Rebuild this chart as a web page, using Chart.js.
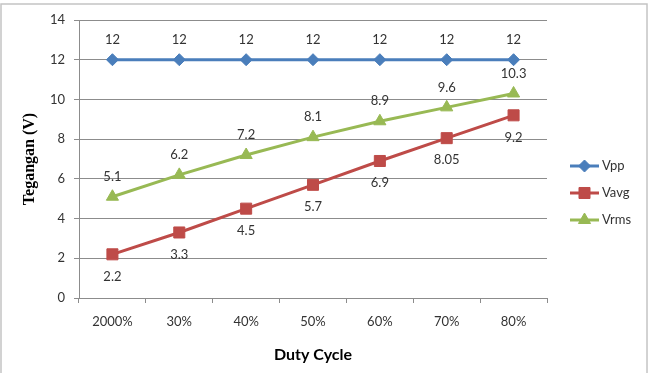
<!DOCTYPE html>
<html>
<head>
<meta charset="utf-8">
<script src="https://cdn.jsdelivr.net/npm/chart.js@4/dist/chart.umd.min.js"></script>
<style>
  html, body { margin: 0; padding: 0; background: #fff; }
  #wrap { width: 653px; height: 373px; position: relative; }
</style>
</head>
<body>
<div id="wrap"><canvas id="chart" width="653" height="373"></canvas></div>
<script>
const dutyCycles = ['2000%', '30%', '40%', '50%', '60%', '70%', '80%'];
const vppData = [12, 12, 12, 12, 12, 12, 12];
const vavgData = [2.2, 3.3, 4.5, 5.7, 6.9, 8.05, 9.2];
const vrmsData = [5.1, 6.2, 7.2, 8.1, 8.9, 9.6, 10.3];
const seriesNames = ['Vpp', 'Vavg', 'Vrms'];

const blue = '#4A7EBB';
const red = '#BE4B48';
const green = '#98B954';
const textColor = '#333333';
const gridColor = '#8C8C8C';
const labelFont = '13px Lato, "Open Sans", sans-serif';

// value labels: Vavg goes under its points, the others above
const dataLabels = {
    id: 'dataLabels',
    afterDatasetsDraw(chart) {
        const ctx = chart.ctx;
        ctx.save();
        ctx.font = labelFont;
        ctx.fillStyle = textColor;
        ctx.textAlign = 'center';
        ctx.textBaseline = 'middle';
        chart.data.datasets.forEach((ds, i) => {
            const meta = chart.getDatasetMeta(i);
            meta.data.forEach((pt, j) => {
                const dy = ds.label === 'Vavg' ? 22 : -20;
                ctx.fillText(String(ds.data[j]), pt.x, pt.y + dy);
            });
        });
        ctx.restore();
    }
};

// excel-ish legend: short line with marker, then the name
const sideLegend = {
    id: 'sideLegend',
    afterDraw(chart) {
        const ctx = chart.ctx;
        const x0 = 570, x1 = 599, rows = [166, 193, 220];
        ctx.save();
        chart.data.datasets.forEach((ds, i) => {
            const y = rows[i];
            ctx.strokeStyle = ds.borderColor;
            ctx.lineWidth = 3;
            ctx.beginPath();
            ctx.moveTo(x0, y);
            ctx.lineTo(x1, y);
            ctx.stroke();
            ctx.fillStyle = ds.backgroundColor;
            ctx.strokeStyle = ds.borderColor;
            ctx.lineWidth = 1;
            Chart.helpers.drawPoint(ctx, {pointStyle: ds.pointStyle, radius: ds.pointRadius, borderWidth: 1}, (x0 + x1) / 2, y);
            ctx.font = labelFont;
            ctx.fillStyle = textColor;
            ctx.textAlign = 'left';
            ctx.textBaseline = 'middle';
            ctx.fillText(ds.label, x1 + 3, y);
        });
        ctx.restore();
    }
};

const frame = {
    id: 'frame',
    beforeDraw(chart) {
        const ctx = chart.ctx;
        ctx.save();
        ctx.fillStyle = '#fff';
        ctx.fillRect(0, 0, chart.width, chart.height);
        ctx.strokeStyle = '#C4C4C4';
        ctx.lineWidth = 1.5;
        ctx.strokeRect(1, 4, 646, 380);
        ctx.restore();
    }
};

function makeSet(name, data, color, style, radius) {
    return {
        label: name,
        data: data,
        borderColor: color,
        backgroundColor: color,
        borderWidth: 3,
        pointStyle: style,
        pointRadius: radius,
        pointHoverRadius: radius,
        pointBorderWidth: 1,
        tension: 0
    };
}

new Chart(document.getElementById('chart'), {
    type: 'line',
    data: {
        labels: dutyCycles,
        datasets: [
            makeSet(seriesNames[0], vppData, blue, 'rectRot', 6),
            makeSet(seriesNames[1], vavgData, red, 'rect', 7.8),
            makeSet(seriesNames[2], vrmsData, green, 'triangle', 7)
        ]
    },
    options: {
        responsive: false,
        animation: false,
        layout: { padding: { left: 14, top: 20, right: 106, bottom: 0 } },
        plugins: {
            legend: { display: false },
            tooltip: { enabled: false }
        },
        scales: {
            x: {
                offset: true,
                afterFit(scale) { scale.height = 75; },
                grid: {
                    offset: true,
                    drawOnChartArea: false,
                    drawTicks: true,
                    tickLength: 5,
                    color: gridColor
                },
                border: { color: gridColor },
                ticks: { color: textColor, font: { family: 'Lato', size: 13 }, padding: 11, maxRotation: 0 },
                title: {
                    display: true,
                    text: 'Duty Cycle',
                    color: '#000',
                    font: { family: 'Lato', size: 16, weight: 'bold' },
                    padding: { top: 0, bottom: 9 }
                }
            },
            y: {
                min: 0,
                max: 14,
                afterFit(scale) { scale.width = 65; },
                grid: { color: gridColor, tickLength: 5 },
                border: { color: gridColor },
                ticks: { stepSize: 2, color: textColor, font: { family: 'Lato', size: 13 }, padding: 9 },
                title: {
                    display: true,
                    text: 'Tegangan (V)',
                    color: '#000',
                    font: { family: '"Liberation Serif"', size: 16, weight: 'bold' },
                    padding: { top: 6, bottom: 0 }
                }
            }
        }
    },
    plugins: [frame, dataLabels, sideLegend]
});
</script>
</body>
</html>
